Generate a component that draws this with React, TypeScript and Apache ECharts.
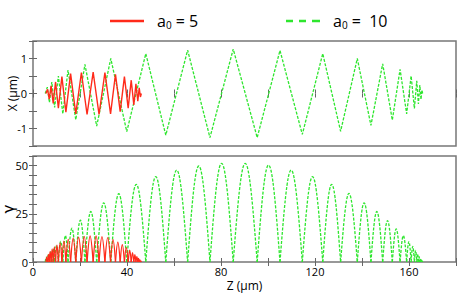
import React, { useEffect, useRef } from "react";
import * as echarts from "echarts";

// ---- data ----
const zTickLabels = [0, 40, 80, 120, 160];
const xTickLabels = [-1, 0, 1];
const gammaTickLabels = [0, 25, 50];

// a0 = 10 : turning points of the transverse trajectory (Z in µm, X in µm)
const greenTurnZ = [5.2, 6.1, 7.0, 8.0, 9.2, 10.8, 12.7, 14.9, 18.2, 22.1, 27.1, 33.1, 39.9, 48.0, 56.5, 65.8, 75.3, 85.2, 95.4, 105.1, 114.6, 123.3, 130.9, 138.0, 143.8, 148.8, 152.9, 156.2, 159.0, 160.9, 162.3, 163.3, 164.0, 164.6, 165.1, 165.5, 165.8];
const greenTurnX = [0, 0.18, -0.26, 0.33, -0.4, 0.5, -0.58, 0.67, -0.75, 0.83, -0.93, 1.0, -1.09, 1.14, -1.19, 1.24, -1.26, 1.27, -1.26, 1.23, -1.17, 1.14, -1.08, 1.0, -0.91, 0.85, -0.76, 0.69, -0.58, 0.5, -0.43, 0.36, -0.3, 0.24, -0.17, 0.1, 0];
// peak gamma of each arch between consecutive turning points
const greenGammaPeak = [2.5, 3.8, 5.2, 6.8, 8.5, 10.7, 13.7, 17.5, 21.7, 26.2, 30.7, 35.4, 40.3, 44.3, 47.7, 49.8, 51.2, 51.2, 50.3, 47.7, 44.3, 40.3, 35.6, 30.7, 26.2, 21.5, 17.2, 13.7, 10.6, 8.1, 6.0, 4.2, 2.8, 1.8, 1.0, 0.5];

// a0 = 5
const redTurnZ = [5.5, 6.2, 6.9, 7.7, 8.6, 9.6, 10.8, 12.3, 14.0, 16.0, 18.2, 20.6, 23.0, 25.6, 28.1, 30.6, 33.0, 35.1, 37.1, 38.9, 40.5, 41.8, 42.9, 43.8, 44.6, 45.2, 45.7, 46.1];
const redTurnX = [0, 0.12, -0.16, 0.22, -0.28, 0.33, -0.42, 0.48, -0.53, 0.57, -0.58, 0.6, -0.6, 0.61, -0.6, 0.6, -0.58, 0.55, -0.52, 0.48, -0.42, 0.38, -0.33, 0.28, -0.22, 0.16, -0.1, 0];
const redGammaPeak = [2.5, 4, 5.5, 6.8, 7.8, 8.8, 9.8, 10.8, 11.7, 12.4, 12.9, 13.3, 13.5, 13.5, 13.2, 12.6, 11.6, 10.3, 9.0, 7.6, 6.2, 4.9, 3.8, 2.8, 1.9, 1.2, 0.6];

const RED = "#ff2a1a";
const GREEN = "#2ee62e";
const FONT = "Open Sans";
const NAME5 = "a0 = 5";
const NAME10 = "a0 = 10";

const archRender = (color: string, dash: number[] | null, width: number) => (params: any, api: any) => {
  const z0 = api.value(0);
  const z1 = api.value(1);
  const h = api.value(2);
  const p0 = api.coord([z0, 0]);
  const p1 = api.coord([z1, 0]);
  const pt = api.coord([(z0 + z1) / 2, h]);
  const hw = (p1[0] - p0[0]) / 2;
  const base = p0[1];
  const top = pt[1];
  const dh = base - top;
  const d =
    `M${p0[0]},${base} C${p0[0] + 0.35 * hw},${base - 0.55 * dh} ${pt[0] - 0.35 * hw},${top} ${pt[0]},${top} ` +
    `C${pt[0] + 0.35 * hw},${top} ${p1[0] - 0.35 * hw},${base - 0.55 * dh} ${p1[0]},${base}`;
  return {
    type: "path",
    shape: { pathData: d },
    style: { fill: "none", stroke: color, lineWidth: width, lineDash: dash || undefined },
  };
};

const tickStyle = { show: true, inside: true, length: 4, lineStyle: { color: "#666", width: 1 } };

function buildOption() {
  const greenLine = greenTurnZ.map((z, i) => [z, greenTurnX[i]]);
  const redLine = redTurnZ.map((z, i) => [z, redTurnX[i]]);
  const greenArches = greenTurnZ.slice(0, -1).map((z, i) => [z, greenTurnZ[i + 1], greenGammaPeak[i]]);
  const redArches = redTurnZ.slice(0, -1).map((z, i) => [z, redTurnZ[i + 1], redGammaPeak[i]]);

  const legendRich = {
    sp: { width: 8 },
    a: { fontSize: 16, fontFamily: FONT, color: "#000", lineHeight: 18 },
    s: { fontSize: 10, fontFamily: FONT, color: "#000", verticalAlign: "bottom", lineHeight: 12 },
  };
  const legendFmt = (name: string) =>
    name === NAME5 ? "{sp|}{a|a}{s|0}{a| = 5}" : "{sp|}{a|a}{s|0}{a| =  10}";

  const hiddenAxisLine = { show: false };
  const gridBase = {
    left: 33, right: 7, show: true, borderColor: "#777", borderWidth: 1.5,
    backgroundColor: "transparent", containLabel: false, outerBoundsMode: "none",
  };

  return {
    animation: false,
    legend: [
      {
        data: [{ name: NAME5, icon: "path://M0,0H34V2.5H0Z", itemStyle: { color: RED } }],
        left: 105,
        top: 8,
        itemWidth: 34,
        itemHeight: 2.5,
        formatter: legendFmt,
        textStyle: { rich: legendRich },
        selectedMode: false,
      },
      {
        data: [{ name: NAME10, icon: "path://M0,0H7V2.5H0Z M13,0H20V2.5H13Z M26,0H34V2.5H26Z", itemStyle: { color: GREEN } }],
        left: 281,
        top: 8,
        itemWidth: 34,
        itemHeight: 2.5,
        formatter: legendFmt,
        textStyle: { rich: legendRich },
        selectedMode: false,
      },
    ],
    grid: [
      { ...gridBase, top: 41, height: 105 },
      { ...gridBase, top: 156, height: 106 },
    ],
    xAxis: [
      { gridIndex: 0, type: "value", min: 0, max: 180, interval: 20, position: "bottom", axisLine: hiddenAxisLine, axisTick: tickStyle, axisLabel: { show: false }, splitLine: { show: false } },
      { gridIndex: 0, type: "value", min: 0, max: 180, interval: 20, position: "top", axisLine: hiddenAxisLine, axisTick: tickStyle, axisLabel: { show: false }, splitLine: { show: false } },
      {
        gridIndex: 1, type: "value", min: 0, max: 180, interval: 20, position: "bottom",
        axisLine: hiddenAxisLine, axisTick: tickStyle, splitLine: { show: false },
        axisLabel: {
          margin: 4, fontSize: 11, fontFamily: FONT, color: "#000",
          formatter: (v: number) => (zTickLabels.includes(v) ? String(v) : ""),
        },
        name: "Z (µm)", nameLocation: "middle", nameGap: 17, nameMoveOverlap: false,
        nameTextStyle: { fontSize: 12, fontFamily: FONT, color: "#000" },
      },
      { gridIndex: 1, type: "value", min: 0, max: 180, interval: 20, position: "top", axisLine: hiddenAxisLine, axisTick: tickStyle, axisLabel: { show: false }, splitLine: { show: false } },
    ],
    yAxis: [
      {
        gridIndex: 0, type: "value", min: -1.5, max: 1.5, interval: 0.5, position: "left",
        axisLine: hiddenAxisLine, axisTick: tickStyle, splitLine: { show: false },
        axisLabel: {
          margin: 6, fontSize: 11, fontFamily: FONT, color: "#000",
          formatter: (v: number) => (xTickLabels.includes(v) ? String(v) : ""),
        },
        name: "X (µm)", nameLocation: "middle", nameGap: 15, nameMoveOverlap: false,
        nameTextStyle: { fontSize: 12, fontFamily: FONT, color: "#000" },
      },
      { gridIndex: 0, type: "value", min: -1.5, max: 1.5, interval: 0.5, position: "right", axisLine: hiddenAxisLine, axisTick: tickStyle, axisLabel: { show: false }, splitLine: { show: false } },
      {
        gridIndex: 1, type: "value", min: 0, max: 55, interval: 5, position: "left",
        axisLine: hiddenAxisLine, axisTick: tickStyle, splitLine: { show: false },
        axisLabel: {
          margin: 5, fontSize: 11, fontFamily: FONT, color: "#000",
          formatter: (v: number) => (gammaTickLabels.includes(v) ? String(v) : ""),
        },
        name: "γ", nameLocation: "middle", nameGap: 17, nameMoveOverlap: false,
        nameTextStyle: { fontSize: 15, fontFamily: "DejaVu Sans", color: "#000" },
      },
      { gridIndex: 1, type: "value", min: 0, max: 55, interval: 5, position: "right", axisLine: hiddenAxisLine, axisTick: tickStyle, axisLabel: { show: false }, splitLine: { show: false } },
    ],
    series: [
      {
        name: NAME10, type: "line", xAxisIndex: 0, yAxisIndex: 0, data: greenLine,
        symbol: "none", lineStyle: { color: GREEN, width: 1.3, type: [3, 1.5] }, itemStyle: { color: GREEN },
      },
      {
        name: NAME5, type: "line", xAxisIndex: 0, yAxisIndex: 0, data: redLine,
        symbol: "none", lineStyle: { color: RED, width: 1.4, type: "solid" }, itemStyle: { color: RED }, z: 3,
      },
      {
        name: NAME10, type: "custom", xAxisIndex: 2, yAxisIndex: 2, data: greenArches,
        encode: { x: [0, 1], y: 2 }, renderItem: archRender(GREEN, [3, 1.5], 1.3), itemStyle: { color: GREEN },
      },
      {
        name: NAME5, type: "custom", xAxisIndex: 2, yAxisIndex: 2, data: redArches,
        encode: { x: [0, 1], y: 2 }, renderItem: archRender(RED, null, 1.3), itemStyle: { color: RED }, z: 3,
      },
    ],
  };
}

export default function App() {
  const ref = useRef<HTMLDivElement>(null);
  useEffect(() => {
    if (!ref.current) return;
    const chart = echarts.init(ref.current, undefined, { renderer: "svg" });
    chart.setOption(buildOption() as any);
    return () => chart.dispose();
  }, []);
  return (
    <div
      ref={ref}
      style={{ position: "fixed", left: 0, top: 0, width: 463, height: 295, background: "#fff" }}
    />
  );
}
